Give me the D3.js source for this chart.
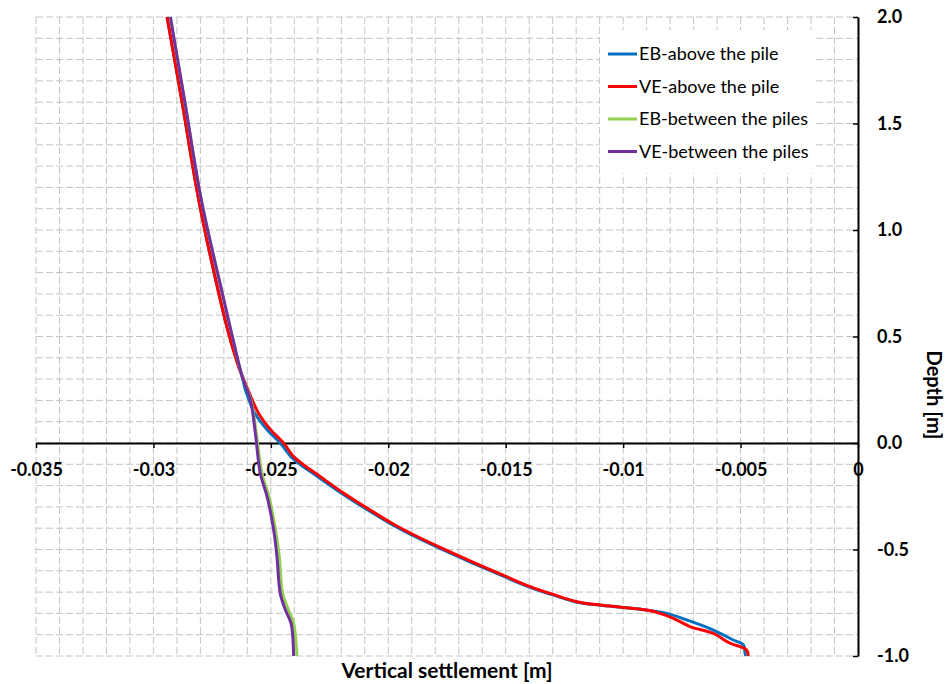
<!DOCTYPE html>
<html>
<head>
<meta charset="utf-8">
<script src="https://cdn.jsdelivr.net/npm/d3@7"></script>
<style>
  body { margin: 0; background: #fff; }
  text { font-family: Lato, "Open Sans", sans-serif; }
</style>
</head>
<body>
<script>
// Chart size
const w = 947;
const h = 684;

// Plot area bounds
const plotLeft = 36;
const plotRight = 858;
const plotTop = 17;
const plotBottom = 656;

// Series names and colours (drawn in this order)
const seriesNames = ["EB-above the pile", "VE-above the pile", "EB-between the piles", "VE-between the piles"];
const seriesColors = ["#0070C0", "#FF0000", "#92D050", "#7030A0"];

// EB-above the pile
const ebAboveDepth = [2.0, 1.6, 1.141, 0.671, 0.5, 0.311, 0.264, 0.217, 0.139, 0.061, 0.0, -0.064, -0.103, -0.158, -0.235, -0.315, -0.380, -0.446, -0.505, -0.566, -0.629, -0.674, -0.711, -0.745, -0.761, -0.772, -0.784, -0.80, -0.831, -0.878, -0.925, -0.948, -0.987, -1.0];
const ebAboveSettl = [-0.02942, -0.02878, -0.02807, -0.02715, -0.02676, -0.02622, -0.02612, -0.02598, -0.02568, -0.02515, -0.02460, -0.02415, -0.02372, -0.02300, -0.02201, -0.02087, -0.01989, -0.01874, -0.01759, -0.01636, -0.01503, -0.01405, -0.01306, -0.01205, -0.01105, -0.01005, -0.00903, -0.00814, -0.00729, -0.00616, -0.00531, -0.00488, -0.00481, -0.00478];

// VE-above the pile
const veAboveDepth = [2.0, 1.6, 1.141, 0.671, 0.5, 0.35, 0.311, 0.264, 0.217, 0.139, 0.061, 0.0, -0.064, -0.103, -0.158, -0.235, -0.315, -0.380, -0.446, -0.505, -0.566, -0.629, -0.674, -0.711, -0.745, -0.761, -0.772, -0.784, -0.80, -0.823, -0.862, -0.894, -0.94, -0.956, -0.972, -1.0];
const veAboveSettl = [-0.02942, -0.02878, -0.02807, -0.02715, -0.02676, -0.02635, -0.02620, -0.02603, -0.02585, -0.02552, -0.02500, -0.02446, -0.02403, -0.02360, -0.02289, -0.02191, -0.02077, -0.01979, -0.01864, -0.01749, -0.01626, -0.01494, -0.01396, -0.01298, -0.01196, -0.01098, -0.00999, -0.00899, -0.00843, -0.00786, -0.00715, -0.00616, -0.00545, -0.00502, -0.00474, -0.00467];

// EB-between the piles
const ebBetweenDepth = [2.0, 1.6, 1.141, 0.671, 0.5, 0.311, 0.202, 0.045, -0.142, -0.252, -0.408, -0.534, -0.706, -0.784, -0.847, -1.0];
const ebBetweenSettl = [-0.02928, -0.02866, -0.02796, -0.02700, -0.02664, -0.02622, -0.02585, -0.02562, -0.02538, -0.02508, -0.02480, -0.02464, -0.02450, -0.02425, -0.02403, -0.02389];

// VE-between the piles
const veBetweenDepth = [2.0, 1.6, 1.141, 0.671, 0.5, 0.311, 0.202, 0.045, -0.142, -0.252, -0.408, -0.534, -0.706, -0.784, -0.847, -1.0];
const veBetweenSettl = [-0.02928, -0.02866, -0.02796, -0.02700, -0.02664, -0.02622, -0.02587, -0.02566, -0.02545, -0.02516, -0.02488, -0.02474, -0.02460, -0.02438, -0.02414, -0.02403];

// Tick values and labels
const xTicks = [-0.035, -0.03, -0.025, -0.02, -0.015, -0.01, -0.005, 0];
const xTickLabels = ["-0.035", "-0.03", "-0.025", "-0.02", "-0.015", "-0.01", "-0.005", "0"];
const yTicks = [2.0, 1.5, 1.0, 0.5, 0.0, -0.5, -1.0];
const yTickLabels = ["2.0", "1.5", "1.0", "0.5", "0.0", "-0.5", "-1.0"];

const series = [
  { depth: ebAboveDepth, settl: ebAboveSettl },
  { depth: veAboveDepth, settl: veAboveSettl },
  { depth: ebBetweenDepth, settl: ebBetweenSettl },
  { depth: veBetweenDepth, settl: veBetweenSettl }
];

const svg = d3.select("body").append("svg").attr("width", w).attr("height", h);

const xScale = d3.scaleLinear().domain([-0.035, 0]).range([plotLeft, plotRight]);
const yScale = d3.scaleLinear().domain([-1, 2]).range([plotBottom, plotTop]);

// Dashed grid (minor steps: 0.001 horizontally, 0.1 vertically)
const gridX = d3.range(-35, 1).map(i => i / 1000);
const gridY = d3.range(-10, 21).map(i => i / 10);

svg.append("g")
  .selectAll("line")
  .data(gridX)
  .join("line")
  .attr("x1", d => xScale(d)).attr("x2", d => xScale(d))
  .attr("y1", plotTop).attr("y2", plotBottom)
  .attr("stroke", "#c4c4c4")
  .attr("stroke-dasharray", "7,3");

svg.append("g")
  .selectAll("line")
  .data(gridY)
  .join("line")
  .attr("x1", plotLeft).attr("x2", plotRight)
  .attr("y1", d => yScale(d)).attr("y2", d => yScale(d))
  .attr("stroke", "#c4c4c4")
  .attr("stroke-dasharray", "7,3");

// Axes
const xAxis = d3.axisBottom(xScale)
  .tickValues(xTicks)
  .tickFormat((d, i) => xTickLabels[i])
  .tickSizeInner(5)
  .tickSizeOuter(0)
  .tickPadding(15);

const gx = svg.append("g")
  .attr("transform", "translate(0," + yScale(0) + ")")
  .call(xAxis);

const yAxis = d3.axisRight(yScale)
  .tickValues(yTicks)
  .tickFormat((d, i) => yTickLabels[i])
  .tickSizeInner(-5)
  .tickSizeOuter(0)
  .tickPadding(19);

const gy = svg.append("g")
  .attr("transform", "translate(" + xScale(0) + ",0)")
  .call(yAxis);

[gx, gy].forEach(g => {
  g.select(".domain").attr("stroke", "#000").attr("stroke-width", 2);
  g.selectAll(".tick line").attr("stroke", "#000").attr("stroke-width", 1.5);
  g.selectAll(".tick text")
    .attr("fill", "#000")
    .style("font-size", "18px")
    .style("font-weight", "bold")
    .style("font-family", "Lato, sans-serif");
});

// Curves
const line = d3.line()
  .x(d => xScale(d[0]))
  .y(d => yScale(d[1]))
  .curve(d3.curveCatmullRom);

series.forEach((s, i) => {
  const pts = s.depth.map((d, j) => [s.settl[j], d]);
  svg.append("path")
    .datum(pts)
    .attr("d", line)
    .attr("fill", "none")
    .attr("stroke", seriesColors[i])
    .attr("stroke-width", 3)
    .attr("stroke-linejoin", "round");
});

// Legend
const legend = svg.append("g");
legend.append("rect")
  .attr("x", 600).attr("y", 30)
  .attr("width", 214).attr("height", 143)
  .attr("fill", "#fff");

seriesNames.forEach((name, i) => {
  const y = 54 + i * 32.5;
  legend.append("line")
    .attr("x1", 608).attr("x2", 637)
    .attr("y1", y).attr("y2", y)
    .attr("stroke", seriesColors[i])
    .attr("stroke-width", 3);
  legend.append("text")
    .attr("x", 639).attr("y", y)
    .attr("dy", "0.35em")
    .style("font-size", "18px")
    .text(name);
});

// Axis titles
svg.append("text")
  .attr("x", 447).attr("y", 678)
  .attr("text-anchor", "middle")
  .style("font-size", "21px")
  .style("font-weight", "bold")
  .text("Vertical settlement [m]");

svg.append("text")
  .attr("transform", "translate(927,395) rotate(90)")
  .attr("text-anchor", "middle")
  .style("font-size", "20px")
  .style("font-weight", "bold")
  .text("Depth [m]");
</script>
</body>
</html>
